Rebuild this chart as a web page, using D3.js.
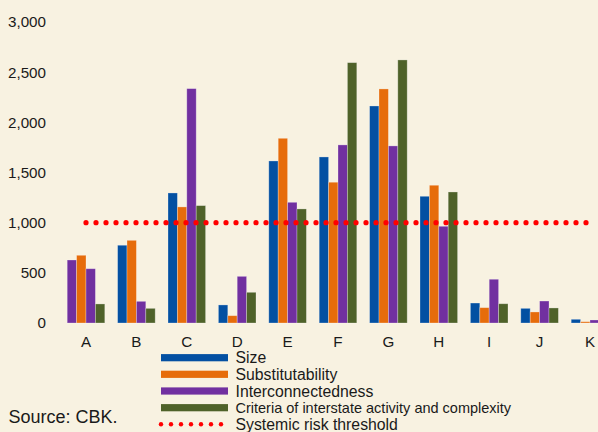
<!DOCTYPE html>
<html><head><meta charset="utf-8">
<script src="https://cdn.jsdelivr.net/npm/d3@7"></script>
<style>
html,body{margin:0;padding:0;background:#F8F2E1;}
svg{display:block;font-family:"Liberation Sans",Arial,sans-serif;}
</style></head>
<body>
<svg id="chart" width="598" height="432"></svg>
<script>
const categories = ["A","B","C","D","E","F","G","H","I","J","K"];
const seriesNames = ["Size","Substitutability","Interconnectedness","Criteria of interstate activity and complexity"];
const size = [628, 775, 1296, 180, 1615, 1655, 2163, 1263, 199, 146, 37];
const substitutability = [675, 824, 1157, 73, 1841, 1403, 2333, 1373, 153, 110, 13];
const interconnectedness = [541, 216, 2336, 465, 1203, 1775, 1765, 964, 436, 219, 30];
const criteria = [190, 146, 1170, 306, 1137, 2595, 2622, 1306, 192, 150, 20];
const threshold = 1000;
const yTicks = [0, 500, 1000, 1500, 2000, 2500, 3000];
const thresholdName = "Systemic risk threshold";
const source = "Source: CBK.";

const colors = ["#0350A2", "#E66C0B", "#7130A0", "#4F6229"];
const seriesValues = [size, substitutability, interconnectedness, criteria];

const svg = d3.select("#chart");
const W = 598, H = 432;
svg.append("rect").attr("width", W).attr("height", H).attr("fill", "#F8F2E1");

const x = d3.scaleBand().domain(categories).range([60.8, 615.2]).paddingInner(0).paddingOuter(0);
const y = d3.scaleLinear().domain([0, 3000]).range([323, 22]);
const xs = d3.scaleBand().domain(d3.range(4)).range([0, 37.6]);
const groupOffset = (x.bandwidth() - 37.6) / 2;

// y axis labels
const yAxis = svg.append("g").attr("transform", "translate(46,0)")
  .call(d3.axisLeft(y).tickValues(yTicks).tickSize(0).tickPadding(0).tickFormat(d3.format(",")));
yAxis.select(".domain").remove();
yAxis.selectAll("text").attr("font-size", "15.2px").attr("fill", "#1a1a1a")
  .attr("font-family", "Liberation Sans, Arial, sans-serif");

// bars
const data = [];
categories.forEach((c, i) => seriesValues.forEach((arr, s) => data.push({c, s, v: arr[i]})));
const gBars = svg.append("g");
gBars.selectAll("rect").data(data).join("rect")
  .attr("x", d => x(d.c) + groupOffset + xs(d.s))
  .attr("y", d => y(d.v))
  .attr("width", xs.bandwidth())
  .attr("height", d => y(0) - y(d.v))
  // the first bar of category A appears purple in the original
  .attr("fill", d => (d.c === "A" && d.s === 0) ? colors[2] : colors[d.s])
  .attr("stroke", "rgba(255,255,255,0.35)")
  .attr("stroke-width", 0.8);

// x axis labels
const xAxis = svg.append("g").attr("transform", `translate(0,${y(0)})`)
  .call(d3.axisBottom(x).tickSize(0).tickPadding(13));
xAxis.select(".domain").remove();
xAxis.selectAll("text").attr("font-size", "15.2px").attr("fill", "#1a1a1a")
  .attr("font-family", "Liberation Sans, Arial, sans-serif");

// threshold dotted line
const x0 = x("A") + x.bandwidth() / 2, x1 = x("K") + x.bandwidth() / 2;
const dots = d3.range(x0, x1 - 1, 10);
svg.append("g").selectAll("circle").data(dots).join("circle")
  .attr("cx", d => d).attr("cy", y(threshold)).attr("r", 2.6).attr("fill", "#FF0000");

// legend
const lg = svg.append("g");
const rowY = [357.7, 374.3, 391, 407.7, 424.3];
seriesNames.forEach((n, i) => {
  lg.append("rect").attr("x", 161).attr("y", rowY[i] - 3.6).attr("width", 67).attr("height", 7.2).attr("fill", colors[i]);
  lg.append("text").attr("x", 235.5).attr("y", rowY[i] + 5.5)
    .attr("font-size", i === 3 ? "14.5px" : "15.8px").attr("fill", "#1a1a1a").text(n);
});
lg.selectAll("circle.ld").data(d3.range(7)).join("circle").attr("class", "ld")
  .attr("cx", d => 161 + d * 10).attr("cy", rowY[4]).attr("r", 2.2).attr("fill", "#FF0000");
lg.append("text").attr("x", 235.5).attr("y", rowY[4] + 5.5).attr("font-size", "15.8px").attr("fill", "#1a1a1a").text(thresholdName);

svg.append("text").attr("x", 8.5).attr("y", 422.5).attr("font-size", "18px").attr("fill", "#1a1a1a").text(source);
</script>
</body></html>
